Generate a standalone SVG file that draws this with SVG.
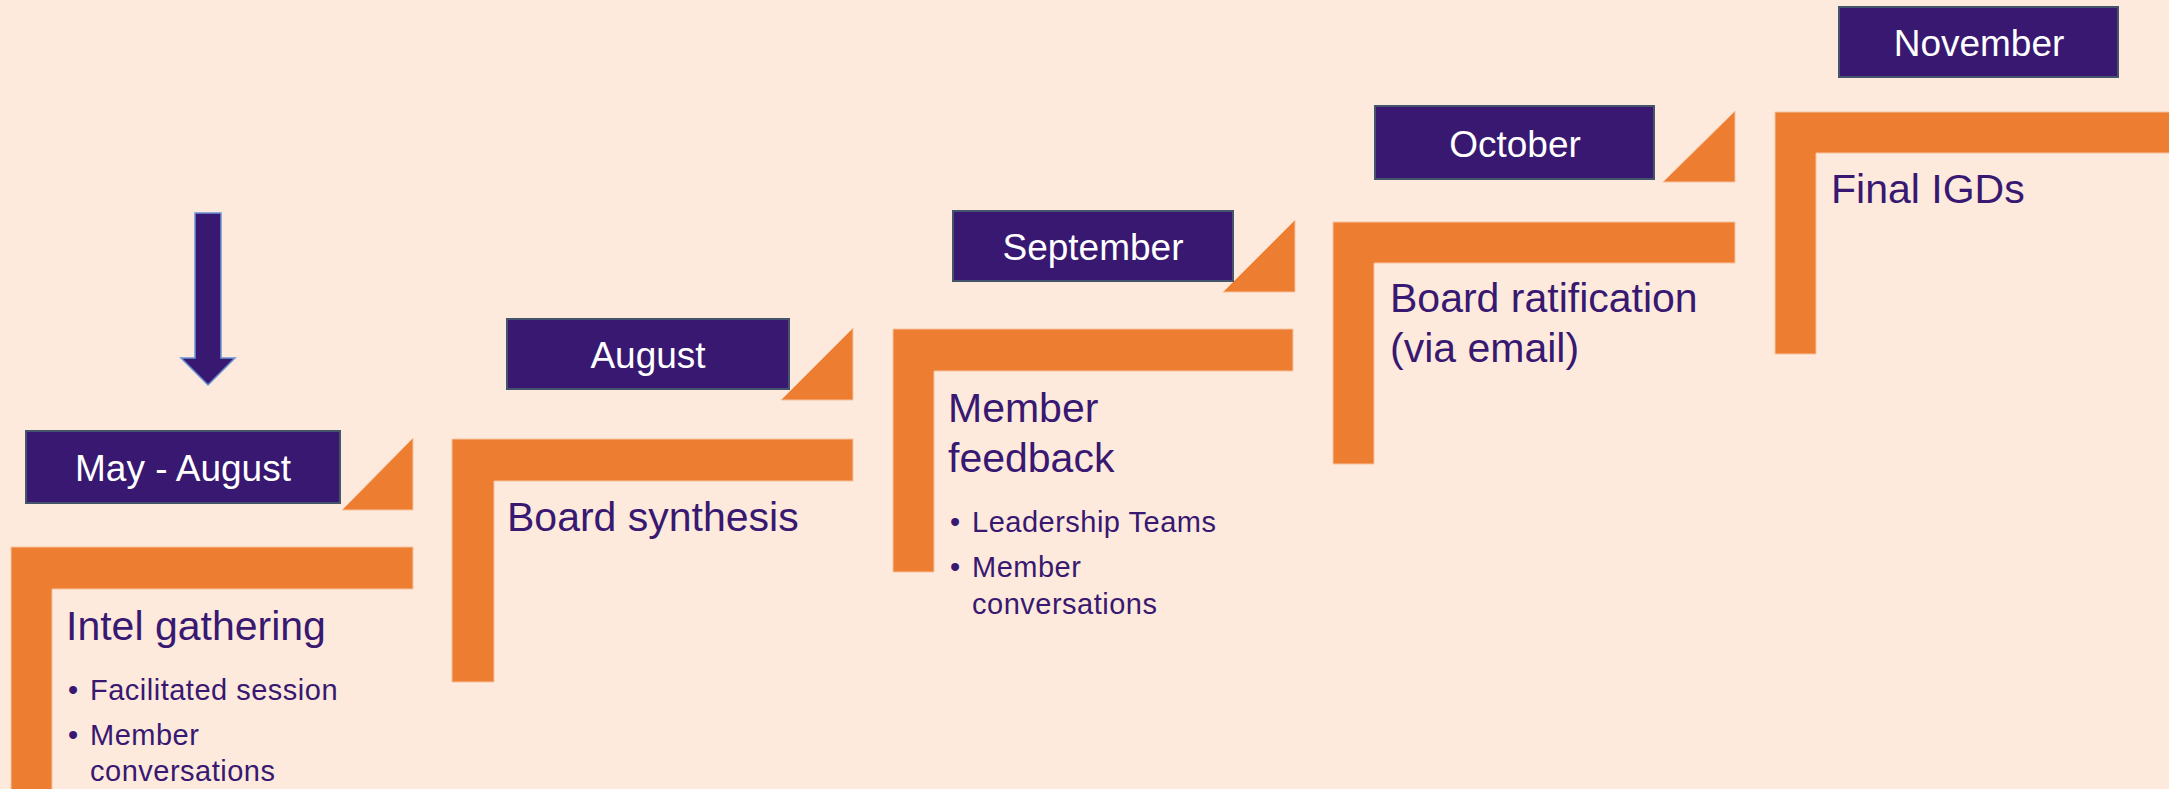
<svg xmlns="http://www.w3.org/2000/svg" width="2169" height="789" viewBox="0 0 2169 789">
<style>
.bg{fill:#FDEADD}
.step{fill:#ED7D31;stroke:#F6C4A0;stroke-width:1}
.tri{fill:#ED7D31;stroke:#F6C4A0;stroke-width:1}
.box{fill:#381870;stroke:#44546A;stroke-width:2}
.month{font-family:"Liberation Sans",Arial,sans-serif;font-size:37px;fill:#FFFFFF;text-anchor:middle}
.head{font-family:"Liberation Sans",Arial,sans-serif;font-size:41px;fill:#381870}
.bul{font-family:"Liberation Sans",Arial,sans-serif;font-size:29px;letter-spacing:0.5px;fill:#381870}
.arrow{fill:#381870;stroke:#6A94D4;stroke-width:1.5}
</style>
<rect class="bg" x="0" y="0" width="2169" height="789"/>

<g id="connectors">
<path class="arrow" d="M195,213 H221 V358 H235 L208,385 L181,358 H195 Z"/>
</g>

<g id="step-may-august">
<path class="step" d="M11,547 H413 V589 H52 V800 H11 Z"/>
<path class="tri" d="M413,438 L342,510 H413 Z"/>
<rect class="box" x="26" y="431" width="314" height="72"/>
<text class="month" x="183" y="481">May - August</text>
<text class="head" x="66" y="640">Intel gathering</text>
<text class="bul" x="68" y="700">•</text>
<text class="bul" x="90" y="700">Facilitated session</text>
<text class="bul" x="68" y="745">•</text>
<text class="bul" x="90" y="745">Member</text>
<text class="bul" x="90" y="781">conversations</text>
</g>

<g id="step-august">
<path class="step" d="M452,439 H853 V481 H494 V682 H452 Z"/>
<path class="tri" d="M853,328 L781,400 H853 Z"/>
<rect class="box" x="507" y="319" width="282" height="70"/>
<text class="month" x="648" y="368">August</text>
<text class="head" x="507" y="531">Board synthesis</text>
</g>

<g id="step-september">
<path class="step" d="M893,329 H1293 V371 H934 V572 H893 Z"/>
<path class="tri" d="M1295,220 L1223,292 H1295 Z"/>
<rect class="box" x="953" y="211" width="280" height="70"/>
<text class="month" x="1093" y="260">September</text>
<text class="head" x="948" y="422">Member</text>
<text class="head" x="948" y="472">feedback</text>
<text class="bul" x="950" y="532">•</text>
<text class="bul" x="972" y="532">Leadership Teams</text>
<text class="bul" x="950" y="577">•</text>
<text class="bul" x="972" y="577">Member</text>
<text class="bul" x="972" y="614">conversations</text>
</g>

<g id="step-october">
<path class="step" d="M1333,222 H1735 V263 H1374 V464 H1333 Z"/>
<path class="tri" d="M1735,111 L1663,182 H1735 Z"/>
<rect class="box" x="1375" y="106" width="279" height="73"/>
<text class="month" x="1515" y="157">October</text>
<text class="head" x="1390" y="312">Board ratification</text>
<text class="head" x="1390" y="362">(via email)</text>
</g>

<g id="step-november">
<path class="step" d="M1775,112 H2175 V153 H1816 V354 H1775 Z"/>
<rect class="box" x="1839" y="7" width="279" height="70"/>
<text class="month" x="1979" y="56">November</text>
<text class="head" x="1831" y="203">Final IGDs</text>
</g>
</svg>
